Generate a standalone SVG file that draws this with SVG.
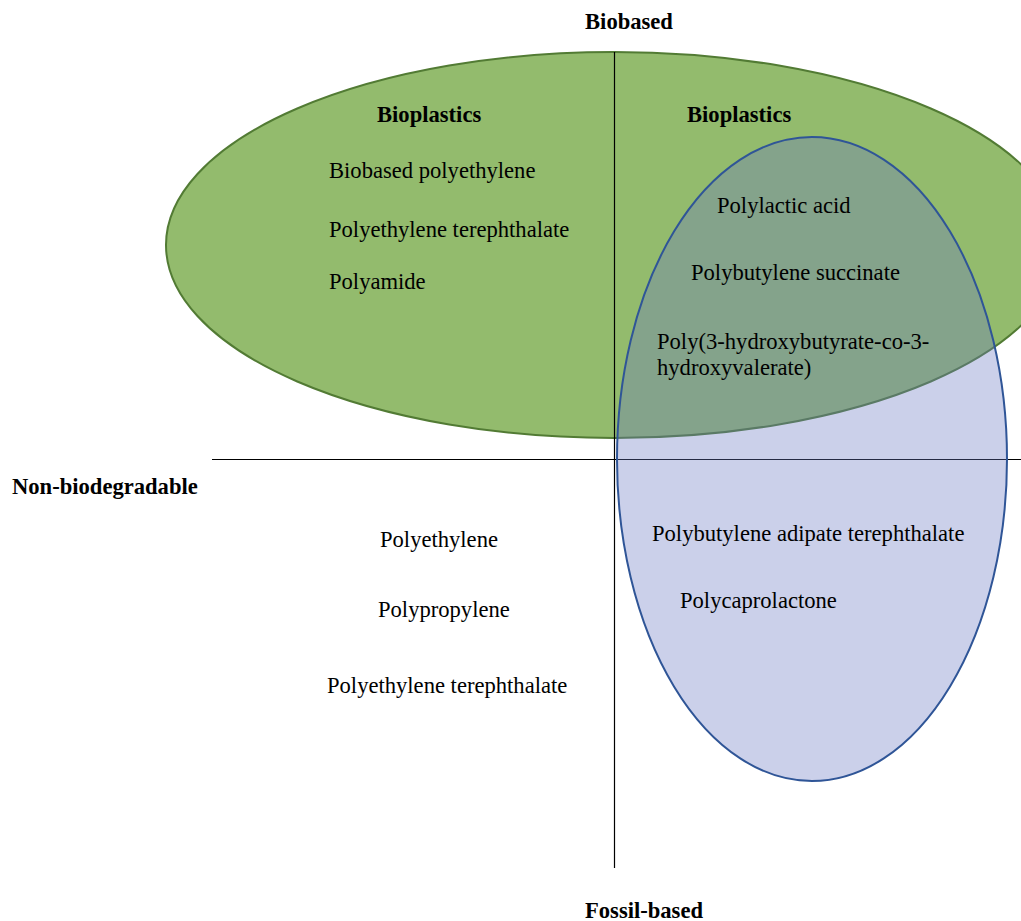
<svg xmlns="http://www.w3.org/2000/svg" width="1021" height="921" viewBox="0 0 1021 921">
<style>
text{font-family:"Liberation Serif","Times New Roman",serif;font-size:22.6px;fill:#000}
.b{font-weight:bold}
.ax{stroke:#000;stroke-width:1.2;fill:none}
</style>
<rect width="1021" height="921" fill="#fff"/>
<g id="biobased-ellipse">
<ellipse cx="614" cy="245" rx="448" ry="193" fill="#93bb6d" stroke="#527b34" stroke-width="2"/>
</g>
<g id="connectors">
<line class="ax" x1="614.5" y1="52" x2="614.5" y2="868"/>
<line class="ax" x1="212" y1="459.5" x2="1021" y2="459.5"/>
</g>
<g id="biodegradable-ellipse">
<ellipse cx="812" cy="459" rx="195" ry="322" fill="#6a79c3" fill-opacity="0.35" stroke="#2f5597" stroke-width="2"/>
</g>
<g id="axis-labels">
<text class="b" x="629" y="29" text-anchor="middle">Biobased</text>
<text class="b" x="12" y="494">Non-biodegradable</text>
<text class="b" x="644" y="918" text-anchor="middle">Fossil-based</text>
</g>
<g id="biobased-nonbiodegradable">
<text class="b" x="377" y="122">Bioplastics</text>
<text x="329" y="178">Biobased polyethylene</text>
<text x="329" y="237">Polyethylene terephthalate</text>
<text x="329" y="289">Polyamide</text>
</g>
<g id="biobased-biodegradable">
<text class="b" x="687" y="122">Bioplastics</text>
<text x="717" y="213">Polylactic acid</text>
<text x="691" y="280">Polybutylene succinate</text>
<text x="657" y="349">Poly(3-hydroxybutyrate-co-3-</text>
<text x="657" y="375">hydroxyvalerate)</text>
</g>
<g id="fossil-biodegradable">
<text x="652" y="541">Polybutylene adipate terephthalate</text>
<text x="680" y="608">Polycaprolactone</text>
</g>
<g id="fossil-nonbiodegradable">
<text x="380" y="547">Polyethylene</text>
<text x="378" y="617">Polypropylene</text>
<text x="327" y="693">Polyethylene terephthalate</text>
</g>
</svg>
